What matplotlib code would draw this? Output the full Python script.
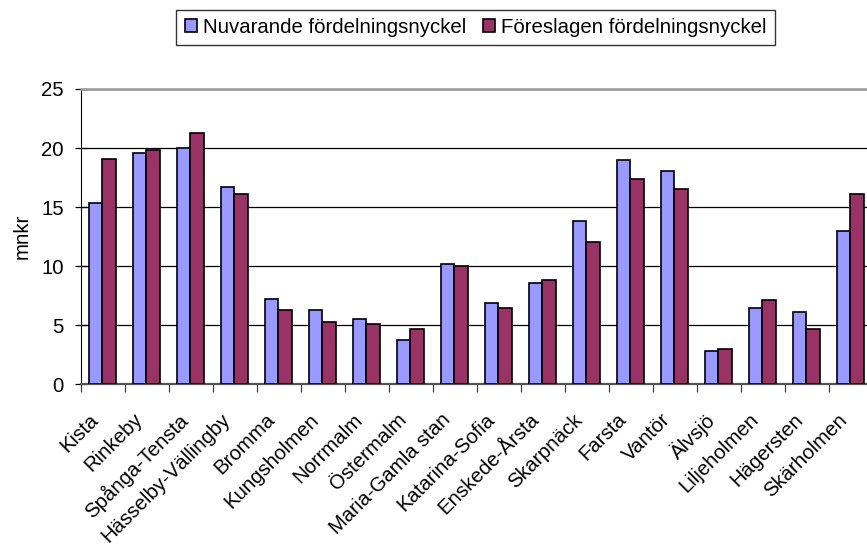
import numpy as np
import matplotlib
matplotlib.use("Agg")
import matplotlib.pyplot as plt
from matplotlib.transforms import ScaledTranslation

# --- data ---
omraden = ['Kista', 'Rinkeby', 'Spånga-Tensta', 'Hässelby-Vällingby', 'Bromma',
           'Kungsholmen', 'Norrmalm', 'Östermalm', 'Maria-Gamla stan',
           'Katarina-Sofia', 'Enskede-Årsta', 'Skarpnäck', 'Farsta', 'Vantör',
           'Älvsjö', 'Liljeholmen', 'Hägersten', 'Skärholmen']
nuvarande = [15.35, 19.6, 20.0, 16.7, 7.2, 6.3, 5.55, 3.75, 10.2,
             6.9, 8.6, 13.85, 19.0, 18.1, 2.8, 6.45, 6.15, 12.95]
foreslagen = [19.1, 19.85, 21.25, 16.1, 6.3, 5.25, 5.1, 4.65, 10.05,
              6.45, 8.85, 12.05, 17.35, 16.55, 3.0, 7.1, 4.65, 16.1]

plt.rcParams['font.family'] = ['Liberation Sans', 'DejaVu Sans']
fs = 14.7

fig = plt.figure(figsize=(8.67, 5.54), dpi=100)
# axes goes a little past the right edge, like the original
ax = fig.add_axes([81 / 867, 1 - 384.3 / 554, 792 / 867, 295.3 / 554])

x = np.arange(len(omraden))
w = 0.3
ax.bar(x - 0.165, nuvarande, w, color='#9999FF', edgecolor='black', linewidth=1.2,
       label='Nuvarande fördelningsnyckel', zorder=3)
ax.bar(x + 0.135, foreslagen, w, color='#993366', edgecolor='black', linewidth=1.2,
       label='Föreslagen fördelningsnyckel', zorder=3)

ax.set_xlim(-0.5, len(omraden) - 0.5)
ax.set_ylim(0, 25)
ax.set_yticks(range(0, 26, 5))
ax.yaxis.grid(True, color='black', linewidth=0.9, zorder=0)
ax.tick_params(axis='y', direction='inout', length=9, width=0.9, labelsize=fs, pad=8)

ax.set_xticks(x)
ax.set_xticklabels(omraden, rotation=45, ha='right', va='top', rotation_mode='anchor', fontsize=fs)
ax.tick_params(axis='x', which='major', length=0, pad=12)
# nudge the slanted labels so they end left of the category centre
shift = ScaledTranslation(-14 / 100, -9 / 100, fig.dpi_scale_trans)
for lbl in ax.get_xticklabels():
    lbl.set_transform(lbl.get_transform() + shift)
ax.set_xticks(np.arange(-0.5, len(omraden), 1), minor=True)
ax.tick_params(axis='x', which='minor', direction='out', length=6, width=0.9, color='#404040')

ax.spines['left'].set_color('black')
ax.spines['bottom'].set_color('#555555')
ax.spines['bottom'].set_linewidth(1.6)
ax.spines['top'].set_color('#999999')
ax.spines['top'].set_linewidth(1.8)
ax.spines['right'].set_visible(False)

ax.set_ylabel('mnkr', fontsize=fs, labelpad=7)

leg = fig.legend(loc='center', bbox_to_anchor=(475.5 / 867, 1 - 27.5 / 554), ncol=2,
                 fontsize=fs, frameon=True, fancybox=False, shadow=False,
                 handlelength=0.6, handleheight=0.6, handletextpad=0.3,
                 columnspacing=0.8, borderpad=0.4)
leg.get_frame().set_edgecolor('black')
leg.get_frame().set_linewidth(1.0)

fig.savefig('out.png', dpi=100)
